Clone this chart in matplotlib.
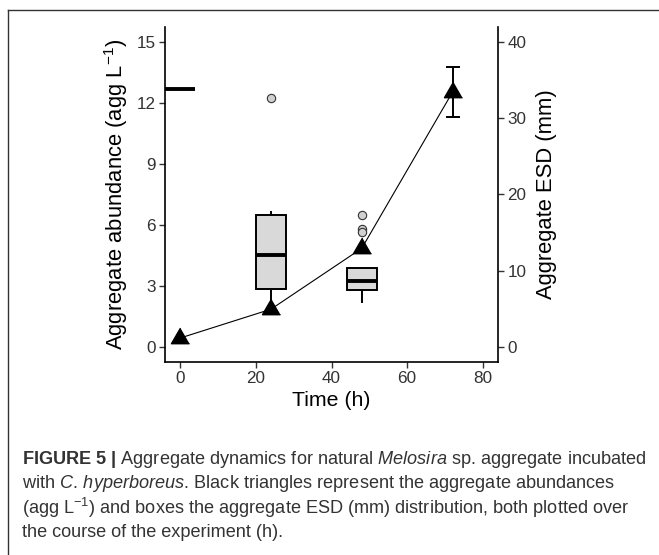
import matplotlib
matplotlib.use("Agg")
import matplotlib.pyplot as plt
from matplotlib.lines import Line2D

plt.rcParams['font.family'] = ['Liberation Sans', 'DejaVu Sans']
plt.rcParams['mathtext.fontset'] = 'custom'
plt.rcParams['mathtext.rm'] = 'Liberation Sans'
plt.rcParams['mathtext.it'] = 'Liberation Sans:italic'
plt.rcParams['mathtext.bf'] = 'Liberation Sans:bold'

# Aggregate abundance (triangles, left axis)
times = [0, 24, 48, 72]
abundance = [0.43, 1.85, 4.85, 12.55]
abundance_err = [0, 0, 0, 1.25]

# Aggregate ESD distribution (boxes, right axis)
esd_times = [0, 24, 48]
esd_whislo = [33.8, 5.3, 5.9]
esd_q1 = [33.8, 7.6, 7.4]
esd_med = [33.8, 12.1, 8.65]
esd_q3 = [33.8, 17.25, 10.35]
esd_whishi = [33.8, 17.65, 10.35]
esd_outliers = [[], [32.7], [17.25, 15.5, 15.1]]

W, H = 659, 555
fig = plt.figure(figsize=(W / 100, H / 100), dpi=100)

# panel position in pixels
left, right, top, bottom = 165, 498, 27, 362
ax = fig.add_axes([left / W, 1 - bottom / H, (right - left) / W, (bottom - top) / H])
ax2 = ax.twinx()

# boxes behind the triangles
ax.set_zorder(ax2.get_zorder() + 1)
ax.patch.set_visible(False)

stats = []
for i in range(len(esd_times)):
    stats.append({
        'whislo': esd_whislo[i], 'q1': esd_q1[i], 'med': esd_med[i],
        'q3': esd_q3[i], 'whishi': esd_whishi[i], 'fliers': esd_outliers[i],
    })

ax2.bxp(stats, positions=esd_times, widths=8, patch_artist=True,
        showcaps=False, manage_ticks=False,
        boxprops=dict(facecolor='#d9d9d9', edgecolor='black', linewidth=1.4),
        medianprops=dict(color='black', linewidth=2.8, solid_capstyle='butt'),
        whiskerprops=dict(color='black', linewidth=1.4),
        flierprops=dict(marker='o', markerfacecolor='#d0d0d0',
                        markeredgecolor='#333333', markersize=6,
                        markeredgewidth=0.8))

tri = [(0, 0.577), (-0.5, -0.289), (0.5, -0.289)]
ax.plot(times, abundance, color='black', linewidth=0.8, zorder=2)
err_t = [t for t, e in zip(times, abundance_err) if e > 0]
err_y = [a for a, e in zip(abundance, abundance_err) if e > 0]
err_v = [e for e in abundance_err if e > 0]
ax.errorbar(err_t, err_y, yerr=err_v, fmt='none', ecolor='black',
            elinewidth=1.4, capsize=4.7, capthick=1.4, zorder=3)
ax.plot(times, abundance, linestyle='none', marker=tri, markersize=15,
        color='black', zorder=4)

ax.set_xlim(-4, 84)
ax.set_ylim(-0.75, 15.75)
ax2.set_ylim(-2, 42)
ax.set_xticks([0, 20, 40, 60, 80])
ax.set_yticks([0, 3, 6, 9, 12, 15])
ax2.set_yticks([0, 10, 20, 30, 40])

for a in (ax, ax2):
    a.spines['top'].set_visible(False)
    for s in a.spines.values():
        s.set_linewidth(1.2)
        s.set_color('black')
    a.tick_params(length=4.3, width=1.0, color='#333333', labelsize=12.3,
                  labelcolor='#333333', pad=2.5)
ax2.spines['left'].set_visible(False)
ax.spines['right'].set_visible(False)
ax2.spines['bottom'].set_visible(False)

ax.set_xlabel('Time (h)', fontsize=15.3, labelpad=3)
ax.set_ylabel('Aggregate abundance (agg L$^{-1}$)', fontsize=15.8, labelpad=5)
ax2.set_ylabel('Aggregate ESD (mm)', fontsize=15.8, labelpad=7)

# frame around the figure panel
fig.add_artist(Line2D([8 / W, 1], [1 - 10 / H, 1 - 10 / H], color='#333333', linewidth=1))
fig.add_artist(Line2D([8 / W, 8 / W], [0, 1 - 10 / H], color='#333333', linewidth=1))

caption = [
    r"$\mathbf{FIGURE\ 5\ |}$ Aggregate dynamics for natural $\mathit{Melosira}$ sp. aggregate incubated",
    r"with $\mathit{C.\,hyperboreus}$. Black triangles represent the aggregate abundances",
    r"(agg L$^{-1}$) and boxes the aggregate ESD (mm) distribution, both plotted over",
    "the course of the experiment (h).",
]
for i, line in enumerate(caption):
    fig.text(22 / W, 1 - (459 + 24.5 * i) / H, line, fontsize=13.1,
             color='#333333', ha='left', va='center')

fig.savefig('out.png', dpi=100)
